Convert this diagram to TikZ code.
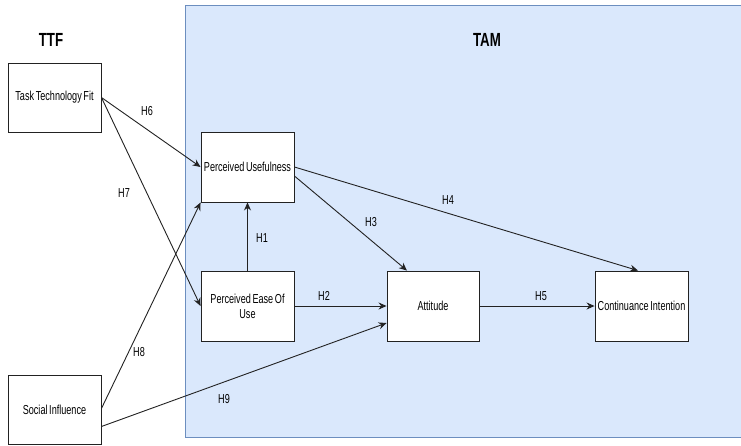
\documentclass[tikz,border=0pt]{standalone}
\usepackage{fontspec}
\setmainfont{Liberation Sans}[FakeStretch=0.7, WordSpace=0.65]
\usetikzlibrary{arrows.meta}
\definecolor{tamfill}{HTML}{DAE8FC}
\definecolor{tamline}{HTML}{6C8EBF}
\definecolor{ink}{HTML}{222222}
\tikzset{
  construct/.style={draw=ink, line width=0.9pt, fill=white, minimum width=93pt,
    minimum height=70pt, inner sep=1pt, align=center,
    font=\fontsize{13}{15}\selectfont},
  path/.style={draw=ink, line width=0.9pt, -{Stealth[length=8pt,width=7pt]}},
  hyp/.style={font=\fontsize{13}{15}\selectfont, inner sep=0pt},
  grouptitle/.style={font=\fontsize{19}{21}\selectfont\bfseries, inner sep=0pt}
}
\begin{document}
\begin{tikzpicture}[x=1pt,y=-1pt]
\useasboundingbox (0,0) rectangle (741,445);
% TAM group panel
\draw[fill=tamfill, draw=tamline, line width=1pt] (185,5) rectangle (745,437);
\node[grouptitle] (ttftitle) at (51,40) {TTF};
\node[grouptitle] (tamtitle) at (487,40) {TAM};

% constructs
\node[construct, minimum height=69pt] (ttf) at (54.5,97.5) {Task Technology Fit};
\node[construct] (pu) at (247.5,167) {Perceived Usefulness};
\node[construct] (peou) at (247.5,306) {Perceived Ease Of\\Use};
\node[construct, minimum width=92pt] (att) at (433,306) {Attitude};
\node[construct] (ci) at (641.5,306) {Continuance Intention};
\node[construct, minimum height=69pt] (si) at (54.5,409.5) {Social Influence};

% hypothesised paths
\draw[path] (ttf.east) -- (pu.west);
\draw[path] (ttf.east) -- (peou.west);
\draw[path] ([yshift=1pt]si.east) -- (pu.south west);
\draw[path] ([yshift=-17pt]si.east) -- ([yshift=-17pt]att.west);
\draw[path] (peou.north) -- (pu.south);
\draw[path] (peou.east) -- (att.west);
\draw[path] ([yshift=-9pt]pu.east) -- ([xshift=-26pt]att.north);
\draw[path] (pu.east) -- ([xshift=-3.5pt]ci.north);
\draw[path] (att.east) -- (ci.west);

% hypothesis labels
\node[hyp] (h1) at (262,238) {H1};
\node[hyp] (h2) at (324,296) {H2};
\node[hyp] (h3) at (371,222) {H3};
\node[hyp] (h4) at (448,200) {H4};
\node[hyp] (h5) at (541,296) {H5};
\node[hyp] (h6) at (147,111) {H6};
\node[hyp] (h7) at (124,193) {H7};
\node[hyp] (h8) at (139,352) {H8};
\node[hyp] (h9) at (224,399) {H9};
\end{tikzpicture}
\end{document}
